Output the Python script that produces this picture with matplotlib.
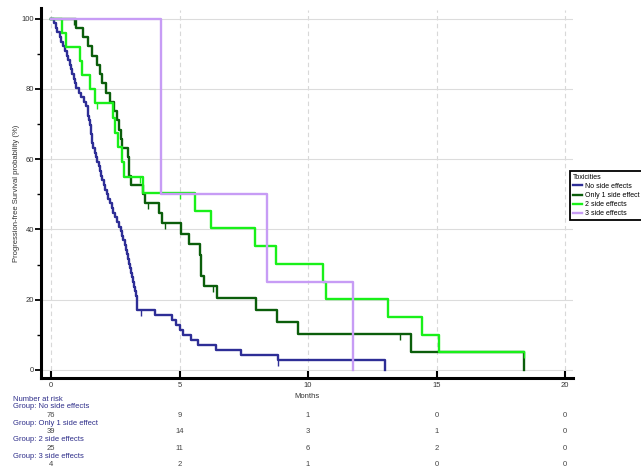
import matplotlib
matplotlib.use("Agg")
import matplotlib.pyplot as plt
import matplotlib.transforms as mtransforms
import numpy as np

plt.rcParams['font.family'] = ['Liberation Sans', 'DejaVu Sans']

# group info
groups = ["No side effects", "Only 1 side effect", "2 side effects", "3 side effects"]
group_n = [76, 39, 25, 4]
colors = ["#2e2e96", "#0b5e0b", "#19f019", "#c79cf5"]

# event / censor times (months)
blue_events = [0.10, 0.18, 0.25, 0.33, 0.40, 0.47, 0.55, 0.62,
               0.68, 0.73, 0.78, 0.83, 0.88, 0.93, 0.98,
               1.08, 1.18, 1.28, 1.38,
               1.42, 1.45, 1.48, 1.51,
               1.54, 1.56, 1.58, 1.60,
               1.65, 1.70, 1.74,
               1.80, 1.85, 1.90, 1.95, 2.00, 2.05, 2.10,
               2.16, 2.22, 2.29, 2.36, 2.43,
               2.50, 2.58, 2.66,
               2.72, 2.77, 2.82, 2.86, 2.90, 2.95, 2.99,
               3.03, 3.07, 3.11, 3.15, 3.19, 3.23, 3.27, 3.31,
               3.35, 3.35, 3.35,
               4.05, 4.70, 4.85, 5.02, 5.15, 5.45, 5.70, 6.40, 7.40, 8.85,
               13.0]
blue_censor = [3.5, 8.85]

dkgreen_events = [0.97, 1.25, 1.45, 1.58, 1.78, 1.90, 2.00, 2.15, 2.30,
                  2.45, 2.55, 2.65, 2.72, 2.75, 3.00, 3.02, 3.05, 3.12,
                  3.57, 3.65, 4.20, 4.30,
                  5.05, 5.38, 5.80, 5.82, 5.85, 5.95,
                  6.45, 7.98, 8.78, 9.60, 14.0, 18.42]
dkgreen_censor = [0.90, 3.77, 4.45, 6.30, 13.58]

ltgreen_events = [0.43, 0.60, 1.12, 1.20, 1.50, 1.73,
                  2.42, 2.50, 2.60, 2.78, 2.85, 3.57,
                  5.60, 6.23, 7.94, 8.75, 10.57, 10.70, 13.10, 14.45, 15.10]
ltgreen_censor = [1.77, 3.46, 5.02, 18.42]

purple_events = [4.28, 4.28, 8.40, 11.75]
purple_censor = []

all_events = [blue_events, dkgreen_events, ltgreen_events, purple_events]
all_censor = [blue_censor, dkgreen_censor, ltgreen_censor, purple_censor]

risk_times = [0, 5, 10, 15, 20]
at_risk = [[76, 9, 1, 0, 0],
           [39, 14, 3, 1, 0],
           [25, 11, 6, 2, 0],
           [4, 2, 1, 0, 0]]


def km(events, censored, n):
    times = sorted(set(events) | set(censored))
    nr = n
    s = 1.0
    xs, ys = [0.0], [100.0]
    cx, cy = [], []
    for t in times:
        d = events.count(t)
        c = censored.count(t)
        if d:
            s *= (nr - d) / nr
            xs.append(t)
            ys.append(s * 100)
        if c:
            cx.append(t)
            cy.append(s * 100)
        nr -= d + c
    xs.append(times[-1])
    ys.append(s * 100)
    return xs, ys, cx, cy


W, H = 641, 469
fig = plt.figure(figsize=(W / 100, H / 100), dpi=100)
ax = fig.add_axes([41 / W, 1 - 378 / H, (573 - 41) / W, (378 - 8) / H])

handles = []
for i in range(4):
    xs, ys, cx, cy = km(all_events[i], all_censor[i], group_n[i])
    ln, = ax.step(xs, ys, where='post', color=colors[i], lw=1.7, label=groups[i])
    handles.append(ln)
    if cx:
        ax.plot(cx, cy, ls='none', marker=3, ms=4, mew=1.0, color=colors[i])

ax.set_xlim(-0.39, 20.31)
ax.set_ylim(-2.3, 103)

for x in range(0, 21, 5):
    ax.plot([x, x], [0, 102.5], color="#d8d8d8", lw=0.8, ls=(0, (4, 3)), zorder=0)
for y in range(0, 101, 20):
    ax.axhline(y, color="#dcdcdc", lw=0.8, zorder=0)

ax.spines['top'].set_visible(False)
ax.spines['right'].set_visible(False)
ax.spines['left'].set_linewidth(2.2)
ax.spines['bottom'].set_linewidth(2.2)

ax.set_xticks(risk_times)
ax.set_yticks(range(0, 101, 20))
ax.set_yticks(range(10, 100, 20), minor=True)
ax.tick_params(axis='x', direction='in', length=5, width=1.5, labelsize=5.5,
               labelcolor="#333333", pad=3)
ax.tick_params(axis='y', direction='out', length=4, width=1.3, labelsize=5.5,
               labelcolor="#333333", pad=1)
ax.tick_params(axis='y', which='minor', direction='out', length=3, width=1.0)

ax.set_xlabel("Months", fontsize=5.5, color="#333333", labelpad=3)
ax.set_ylabel("Progression-free Survival probability (%)", fontsize=5.5,
              color="#333333", labelpad=1)

leg = fig.legend(handles=handles, title="Toxicities", loc='upper left',
                 bbox_to_anchor=(570 / W, 1 - 171 / H), bbox_transform=fig.transFigure,
                 fontsize=5.0, title_fontsize=5.0, fancybox=False, framealpha=1,
                 edgecolor="black", handlelength=1.3, handletextpad=0.5,
                 labelspacing=0.3, borderpad=0.4, borderaxespad=0,
                 alignment='left')
leg.get_frame().set_linewidth(1.3)

# number at risk table
trans = mtransforms.blended_transform_factory(ax.transData, fig.transFigure)
blue_txt = "#2e2e8a"
fig.text(13 / W, 1 - 399 / H, "Number at risk", fontsize=5.5, color=blue_txt,
         va='center', ha='left')
row_y = 406.7
for i in range(4):
    fig.text(13 / W, 1 - row_y / H, "Group: " + groups[i], fontsize=5.5,
             color=blue_txt, va='center', ha='left')
    for t, v in zip(risk_times, at_risk[i]):
        ax.text(t, 1 - (row_y + 8.3) / H, str(v), transform=trans, fontsize=5.5,
                color="#444444", ha='center', va='center')
    row_y += 16.6

fig.savefig("out.png", dpi=100)
